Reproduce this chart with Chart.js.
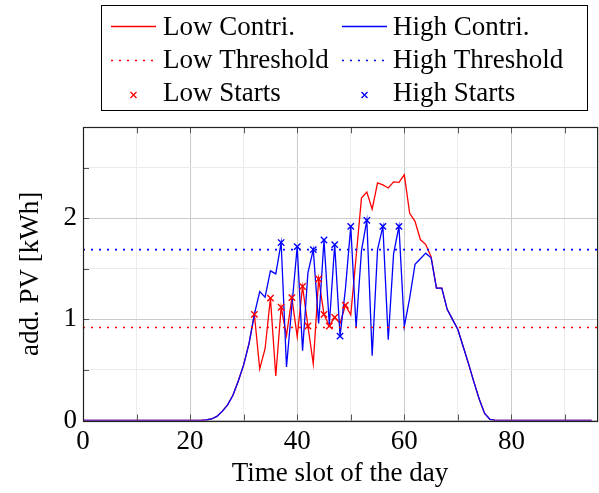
<!DOCTYPE html>
<html>
<head>
<meta charset="utf-8">
<script src="https://cdn.jsdelivr.net/npm/chart.js@4.4.0/dist/chart.umd.min.js"></script>
<style>
html, body { margin: 0; padding: 0; background: #fff; overflow: hidden; }
#wrap { width: 603px; height: 493px; }
</style>
</head>
<body>
<div id="wrap"><canvas id="chart" width="603" height="493"></canvas></div>
<script>
// values, one per time slot (0..95)
const lowContri = [
    0, 0, 0, 0, 0, 0, 0, 0, 0, 0, 0, 0, 0, 0, 0, 0, 0, 0, 0, 0, 0, 0, 0,
    0.005, 0.015, 0.04, 0.09, 0.155, 0.25, 0.39, 0.55, 0.76,
    1.05, 0.51, 0.71, 1.21, 0.44, 1.12, 0.84, 1.215, 0.83, 1.325,
    0.935, 0.56, 1.40, 1.05, 0.935, 1.02, 0.96, 1.14, 1.045, 1.62,
    2.20, 2.26, 2.09, 2.35, 2.33, 2.30, 2.36, 2.355, 2.43, 2.05,
    1.97, 1.79, 1.74, 1.62, 1.31, 1.31, 1.10, 1.00, 0.90, 0.73,
    0.56, 0.38, 0.21, 0.07, 0.01,
    0, 0, 0, 0, 0, 0, 0, 0, 0, 0, 0, 0, 0, 0, 0, 0, 0, 0, 0
];
const highContri = [
    0, 0, 0, 0, 0, 0, 0, 0, 0, 0, 0, 0, 0, 0, 0, 0, 0, 0, 0, 0, 0, 0, 0,
    0.005, 0.015, 0.04, 0.09, 0.155, 0.25, 0.39, 0.55, 0.76,
    1.05, 1.275, 1.22, 1.48, 1.45, 1.76, 0.53, 1.13, 1.72, 0.69,
    1.46, 1.69, 0.96, 1.785, 0.95, 1.74, 0.835, 1.30, 1.92, 0.92,
    1.68, 1.98, 0.64, 1.69, 1.92, 0.80, 1.65, 1.92, 0.93, 1.21,
    1.545, 1.60, 1.655, 1.61, 1.31, 1.31, 1.10, 1.00, 0.90, 0.73,
    0.56, 0.38, 0.21, 0.07, 0.01,
    0, 0, 0, 0, 0, 0, 0, 0, 0, 0, 0, 0, 0, 0, 0, 0, 0, 0, 0
];
const lowStartSlots = [32, 35, 37, 39, 41, 42, 44, 45, 46, 47, 49];
const highStartSlots = [37, 40, 43, 45, 47, 48, 50, 53, 56, 59];
const lowThreshold = 0.92;
const highThreshold = 1.69;
const xRange = [0, 96];
const xTicks = [0, 10, 20, 30, 40, 50, 60, 70, 80, 90];
const yTicks = [0, 0.5, 1, 1.5, 2, 2.5];
const legendLabels = ['Low Contri.', 'High Contri.', 'Low Threshold', 'High Threshold', 'Low Starts', 'High Starts'];

const SERIF = '"Liberation Serif", "Times New Roman", serif';
const RED = '#ff0000';
const BLUE = '#0000ff';
const DOTS = [2, 6];

Chart.defaults.font.family = SERIF;
Chart.defaults.font.size = 27;
Chart.defaults.color = '#000';

const toPoints = arr => arr.map((v, i) => ({ x: i, y: v }));
const startPoints = (slots, arr) => slots.map(s => ({ x: s, y: arr[s] }));
const flatLine = v => xRange.map(x => ({ x: x, y: v }));

// frame, inward ticks and the boxed two-column legend
const framePlugin = {
    id: 'frame',
    afterDraw(chart) {
        const ctx = chart.ctx;
        const a = chart.chartArea;
        const xs = chart.scales.x, ys = chart.scales.y;
        ctx.save();

        ctx.strokeStyle = '#555';
        ctx.lineWidth = 1;
        ctx.beginPath();
        xTicks.forEach(v => {
            const px = Math.round(xs.getPixelForValue(v)) + 0.5;
            ctx.moveTo(px, a.bottom); ctx.lineTo(px, a.bottom - 6);
            ctx.moveTo(px, a.top); ctx.lineTo(px, a.top + 6);
        });
        yTicks.forEach(v => {
            const py = Math.round(ys.getPixelForValue(v)) + 0.5;
            ctx.moveTo(a.left, py); ctx.lineTo(a.left + 6, py);
        });
        ctx.stroke();

        ctx.strokeStyle = '#222';
        ctx.lineWidth = 1.2;
        ctx.strokeRect(Math.round(a.left) + 0.5, Math.round(a.top) + 0.5,
            a.right - a.left, Math.round(a.bottom) - Math.round(a.top));

        // legend box
        ctx.strokeStyle = '#000';
        ctx.lineWidth = 1;
        ctx.strokeRect(101.5, 5.5, 486, 105);

        const colSample = [111, 342];
        const colText = [163, 393];
        const rowMid = [26.5, 60.5, 95];
        const rowBase = [35, 68, 101];
        const colors = [RED, BLUE];
        ctx.font = '27px ' + SERIF;
        ctx.fillStyle = '#000';
        ctx.textBaseline = 'alphabetic';
        ctx.textAlign = 'left';
        legendLabels.forEach((label, i) => {
            const col = i % 2, row = Math.floor(i / 2);
            const x0 = colSample[col], y = rowMid[row];
            ctx.strokeStyle = colors[col];
            ctx.lineWidth = 1.3;
            ctx.beginPath();
            if (row === 0) {
                ctx.setLineDash([]);
                ctx.moveTo(x0, y); ctx.lineTo(x0 + 45, y);
            } else if (row === 1) {
                ctx.setLineDash(DOTS);
                ctx.moveTo(x0, y); ctx.lineTo(x0 + 45, y);
            } else {
                ctx.setLineDash([]);
                const cx = x0 + 22.5, r = 3;
                ctx.moveTo(cx - r, y - r); ctx.lineTo(cx + r, y + r);
                ctx.moveTo(cx - r, y + r); ctx.lineTo(cx + r, y - r);
            }
            ctx.stroke();
            ctx.setLineDash([]);
            ctx.fillText(label, colText[col], rowBase[row]);
        });
        ctx.restore();
    }
};

const chart = new Chart(document.getElementById('chart').getContext('2d'), {
    type: 'line',
    data: {
        datasets: [
            {
                label: legendLabels[4],
                data: startPoints(lowStartSlots, lowContri),
                showLine: false,
                pointStyle: 'crossRot',
                pointRadius: 4.5,
                borderColor: RED,
                borderWidth: 1.4,
                order: 1
            },
            {
                label: legendLabels[5],
                data: startPoints(highStartSlots, highContri),
                showLine: false,
                pointStyle: 'crossRot',
                pointRadius: 4.5,
                borderColor: BLUE,
                borderWidth: 1.4,
                order: 0
            },
            {
                label: legendLabels[2],
                data: flatLine(lowThreshold),
                borderColor: RED,
                borderWidth: 1.7,
                borderDash: DOTS,
                pointRadius: 0,
                order: 3
            },
            {
                label: legendLabels[3],
                data: flatLine(highThreshold),
                borderColor: BLUE,
                borderWidth: 1.7,
                borderDash: DOTS,
                pointRadius: 0,
                order: 2
            },
            {
                label: legendLabels[1],
                data: toPoints(highContri),
                borderColor: BLUE,
                borderWidth: 1.3,
                pointRadius: 0,
                tension: 0,
                order: 4
            },
            {
                label: legendLabels[0],
                data: toPoints(lowContri),
                borderColor: RED,
                borderWidth: 1.3,
                pointRadius: 0,
                tension: 0,
                order: 5
            }
        ]
    },
    options: {
        responsive: false,
        animation: false,
        devicePixelRatio: 1,
        layout: {
            padding: { top: 127.3, right: 1.6, left: 0, bottom: 0 }
        },
        plugins: {
            legend: { display: false },
            tooltip: { enabled: false }
        },
        scales: {
            x: {
                type: 'linear',
                min: xRange[0],
                max: xRange[1],
                afterBuildTicks: s => { s.ticks = xTicks.map(v => ({ value: v })); },
                afterFit: s => { s.height = 72.5; },
                ticks: {
                    autoSkip: false,
                    maxRotation: 0,
                    padding: 5,
                    callback: v => (v % 20 === 0 ? String(v) : '')
                },
                grid: {
                    drawTicks: false,
                    lineWidth: 1,
                    color: c => (c.tick && c.tick.value % 20 === 0 ? '#cbcbcb' : '#ebebeb')
                },
                border: { display: false },
                title: {
                    display: true,
                    text: 'Time slot of the day',
                    padding: { top: 0, bottom: 3 }
                }
            },
            y: {
                min: 0,
                max: 2.9,
                afterBuildTicks: s => { s.ticks = yTicks.map(v => ({ value: v })); },
                afterFit: s => { s.width = 83; },
                ticks: {
                    autoSkip: false,
                    padding: 6,
                    callback: v => (Number.isInteger(v) ? String(v) : '')
                },
                grid: {
                    drawTicks: false,
                    lineWidth: 1,
                    color: c => (c.tick && Number.isInteger(c.tick.value) ? '#cbcbcb' : '#ebebeb')
                },
                border: { display: false },
                title: {
                    display: true,
                    text: 'add. PV [kWh]',
                    padding: { top: 15, bottom: 0 }
                }
            }
        }
    },
    plugins: [framePlugin]
});
</script>
</body>
</html>
